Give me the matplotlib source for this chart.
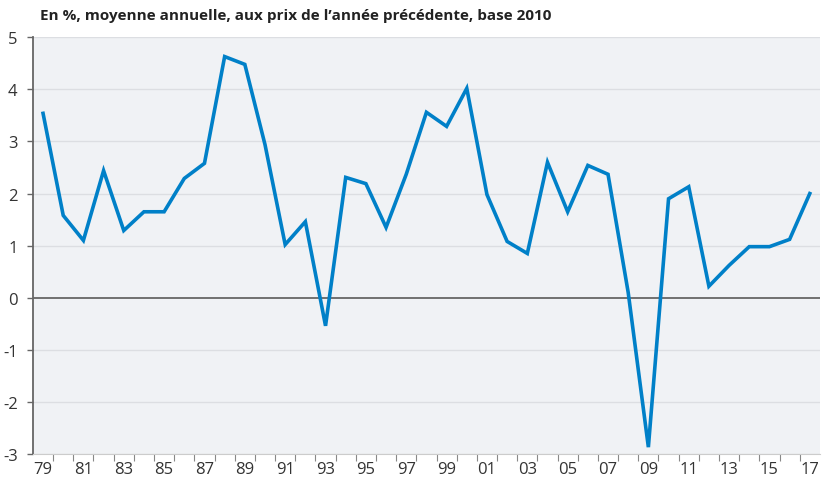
import numpy as np
import matplotlib.pyplot as plt

years = list(range(1979, 2018))
growth = [3.54, 1.58, 1.10, 2.44, 1.29, 1.65, 1.65, 2.29, 2.58, 4.63,
          4.48, 2.94, 1.02, 1.46, -0.54, 2.31, 2.19, 1.35, 2.37, 3.56,
          3.29, 4.02, 1.98, 1.08, 0.85, 2.60, 1.65, 2.54, 2.37, 0.10,
          -2.87, 1.90, 2.13, 0.22, 0.62, 0.98, 0.98, 1.12, 2.00]
year_labels = [f"{y % 100:02d}" for y in years[::2]]
y_ticks = [-3, -2, -1, 0, 1, 2, 3, 4, 5]

plt.rcParams['font.family'] = ['Open Sans', 'DejaVu Sans']

fig = plt.figure(figsize=(8.24, 4.85), dpi=100)
ax = fig.add_axes([0.04, 0.062, 0.955, 0.859])
ax.set_facecolor('#f0f2f5')

ax.set_xlim(years[0] - 0.5, years[-1] + 0.5)
ax.set_ylim(-3, 5)

for y in y_ticks:
    if y != 0:
        ax.axhline(y, color='#dcdee2', lw=1, zorder=1)
ax.axhline(0, color='#666666', lw=1.3, zorder=2)

ax.plot(years, growth, color='#0080c8', lw=2.6, solid_joinstyle='miter', zorder=3)

# labels every two years, tick marks between years
ax.set_xticks(years[::2])
ax.set_xticklabels(year_labels, fontsize=12, color='#333333')
ax.tick_params(axis='x', which='major', length=0, pad=5)
ax.set_xticks(np.arange(years[0] + 0.5, years[-1], 1), minor=True)
ax.tick_params(axis='x', which='minor', length=5, color='#888888', width=0.8)

ax.set_yticks(y_ticks)
ax.set_yticklabels([str(y) for y in y_ticks], fontsize=12, color='#333333')
ax.tick_params(axis='y', length=4, color='#666666', width=1, pad=7)

for s in ['top', 'right']:
    ax.spines[s].set_visible(False)
ax.spines['left'].set_color('#666666')
ax.spines['left'].set_linewidth(1.3)
ax.spines['bottom'].set_color('#cccccc')

fig.text(0.048, 0.966, "En %, moyenne annuelle, aux prix de l\u2019ann\u00e9e pr\u00e9c\u00e9dente, base 2010",
         fontsize=11, fontweight='bold', color='#222222', va='center')

fig.savefig('out.png', dpi=100)
